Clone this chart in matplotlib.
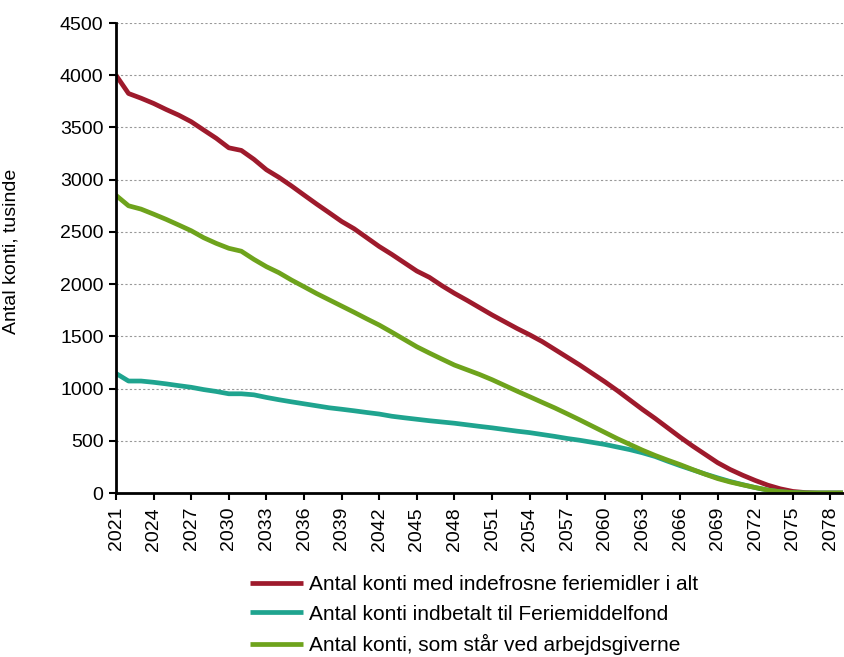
import numpy as np
import matplotlib.pyplot as plt

plt.rcParams['font.family'] = ['Liberation Sans', 'DejaVu Sans']

years = list(range(2021, 2080))

# Antal konti med indefrosne feriemidler i alt (tusinde)
total = [4000, 3825, 3780, 3730, 3672, 3618, 3555, 3475, 3396, 3305,
         3280, 3195, 3095, 3022, 2940, 2853, 2767, 2684, 2600, 2530,
         2445, 2360, 2285, 2205, 2125, 2065, 1985, 1912, 1845, 1775,
         1705, 1640, 1575, 1515, 1450, 1375, 1300, 1225, 1145, 1065,
         980, 890, 800, 715, 625, 535, 450, 370, 290, 225,
         170, 120, 75, 40, 15, 4, 0, 0, 0]

# Antal konti indbetalt til Feriemiddelfond
fond = [1145, 1072, 1072, 1060, 1045, 1028, 1012, 990, 972, 950,
        950, 940, 915, 893, 873, 854, 835, 816, 802, 787,
        771, 756, 735, 720, 706, 692, 680, 668, 653, 638,
        624, 608, 592, 578, 560, 542, 522, 505, 485, 465,
        440, 415, 385, 350, 305, 262, 222, 182, 145, 110,
        80, 52, 28, 12, 4, 0, 0, 0, 0]

# Antal konti, som står ved arbejdsgiverne
arbejdsgiver = [2850, 2750, 2718, 2670, 2620, 2566, 2511, 2444, 2390, 2343,
                2315, 2237, 2167, 2109, 2039, 1975, 1910, 1850, 1790, 1730,
                1668, 1608, 1540, 1470, 1400, 1340, 1282, 1225, 1180, 1135,
                1085, 1030, 975, 922, 868, 815, 758, 700, 640, 580,
                520, 465, 410, 360, 315, 272, 225, 180, 138, 105,
                78, 52, 28, 12, 4, 0, 0, 0, 0]

labels = ['Antal konti med indefrosne feriemidler i alt',
          'Antal konti indbetalt til Feriemiddelfond',
          'Antal konti, som står ved arbejdsgiverne']
colors = ['#9E1A2C', '#1FA48F', '#6EA31C']

fig = plt.figure(figsize=(8.44, 6.57), dpi=100)
ax = fig.add_axes([116/844, 1 - 493/657, 727/844, 470/657])

for vals, lab, col in zip([total, fond, arbejdsgiver], labels, colors):
    ax.plot(years, vals, color=col, lw=3.4, label=lab, solid_capstyle='butt')

ax.set_xlim(2021, 2079)
ax.set_ylim(0, 4500)
ax.set_yticks(np.arange(0, 4501, 500))
ax.set_xticks(np.arange(2021, 2079, 3))
ax.tick_params(axis='x', labelrotation=90, labelsize=14, direction='out',
               length=5, width=1.5, pad=5)
ax.tick_params(axis='y', labelsize=14, direction='out', length=5, width=1.5,
               pad=4)
ax.yaxis.grid(True, color='#999999', linestyle=(0, (2, 2)), linewidth=0.8)
ax.set_axisbelow(True)

for s in ['top', 'right']:
    ax.spines[s].set_visible(False)
for s in ['left', 'bottom']:
    ax.spines[s].set_linewidth(2)

ax.set_ylabel('Antal konti, tusinde', fontsize=14)
ax.yaxis.set_label_coords(-0.133, 0.514)

fig.legend(loc='upper left', bbox_to_anchor=(242/844, 1 - 567/657),
           frameon=False, fontsize=15, handlelength=2.55, handletextpad=0.25,
           labelspacing=0.5, borderaxespad=0)

fig.savefig('out.png', dpi=100)
